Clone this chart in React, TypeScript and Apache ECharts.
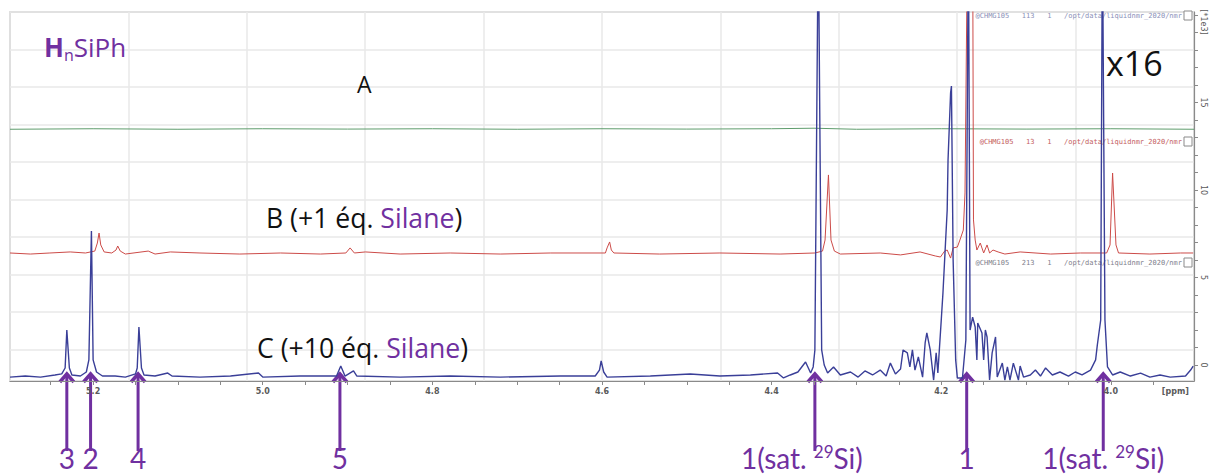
import React, { useEffect, useRef } from "react";
import * as echarts from "echarts";

// ---------- axis ranges & ticks ----------
const X_MIN = 3.902;
const X_MAX = 5.298;
const Y_MIN = -0.914;
const Y_MAX = 20.17;

const X_TICKS = [3.95, 4.0, 4.05, 4.1, 4.15, 4.2, 4.25, 4.3, 4.35, 4.4, 4.45, 4.5, 4.55, 4.6, 4.65, 4.7, 4.75, 4.8, 4.85, 4.9, 4.95, 5.0, 5.05, 5.1, 5.15, 5.2, 5.25];
const X_LABELS = [3.924, 4.0, 4.2, 4.4, 4.6, 4.8, 5.0, 5.2];
const Y_TICKS = [0, 1, 2, 3, 4, 5, 6, 7, 8, 9, 10, 11, 12, 13, 14, 15, 16, 17, 18, 19, 20];
const Y_LABELS = [0, 5, 10, 15, 19.6];

// ---------- spectra: [ppm, intensity (x1e3)] ----------
const SPECTRUM_A: number[][] = [
  [5.298, 13.47], [5.2, 13.5], [5.1, 13.47], [5.0, 13.5], [4.9, 13.48], [4.8, 13.5], [4.7, 13.47],
  [4.6, 13.5], [4.5, 13.48], [4.4, 13.5], [4.35, 13.53], [4.3, 13.47], [4.2, 13.5], [4.1, 13.48],
  [4.0, 13.5], [3.902, 13.47],
];

const SPECTRUM_B: number[][] = [
  [5.298, 6.4], [5.274, 6.34], [5.251, 6.4], [5.227, 6.46], [5.209, 6.4], [5.198, 6.51], [5.195, 6.97],
  [5.193, 7.54], [5.191, 6.86], [5.187, 6.46], [5.178, 6.4], [5.173, 6.57], [5.171, 6.8], [5.168, 6.51],
  [5.162, 6.34], [5.135, 6.51], [5.127, 6.34], [5.109, 6.46], [5.074, 6.4], [5.027, 6.34], [4.979, 6.4],
  [4.932, 6.34], [4.902, 6.4], [4.897, 6.69], [4.892, 6.4], [4.879, 6.46], [4.838, 6.34], [4.779, 6.4],
  [4.72, 6.34], [4.661, 6.4], [4.596, 6.4], [4.594, 6.69], [4.591, 7.03], [4.589, 6.57], [4.586, 6.4],
  [4.532, 6.34], [4.461, 6.4], [4.39, 6.34], [4.349, 6.4], [4.34, 6.51], [4.337, 7.14], [4.333, 10.86],
  [4.33, 7.14], [4.326, 6.51], [4.319, 6.34], [4.272, 6.4], [4.248, 6.29], [4.225, 6.46], [4.207, 6.23],
  [4.201, 6.17], [4.196, 6.51], [4.193, 6.57], [4.189, 6.11], [4.186, 6.69], [4.181, 6.74], [4.178, 7.14],
  [4.174, 7.71], [4.172, 9.83], [4.169, 25], [4.163, 25], [4.162, 8.29], [4.16, 7.14], [4.158, 6.57],
  [4.154, 6.97], [4.15, 6.4], [4.146, 6.86], [4.143, 6.4], [4.139, 6.57], [4.133, 6.46], [4.125, 6.34],
  [4.107, 6.46], [4.071, 6.34], [4.036, 6.4], [4.005, 6.4], [4.001, 6.86], [3.998, 10.97], [3.994, 6.86],
  [3.991, 6.4], [3.954, 6.34], [3.918, 6.4], [3.903, 6.4],
];

const SPECTRUM_C: number[][] = [
  [5.298, -0.69], [5.28, -0.63], [5.262, -0.69], [5.245, -0.57], [5.237, -0.51], [5.233, -0.17],
  [5.231, 2.0], [5.228, -0.17], [5.225, -0.57], [5.215, -0.63], [5.208, -0.4], [5.205, 0.29],
  [5.202, 7.66], [5.2, 0.29], [5.196, -0.4], [5.189, -0.63], [5.174, -0.63], [5.162, -0.69],
  [5.15, -0.51], [5.148, -0.17], [5.146, 2.17], [5.143, -0.17], [5.14, -0.57], [5.127, -0.63],
  [5.112, -0.46], [5.107, -0.63], [5.074, -0.69], [5.038, -0.63], [5.005, -0.46], [5.0, -0.69],
  [4.956, -0.63], [4.913, -0.63], [4.908, -0.06], [4.903, -0.63], [4.893, -0.34], [4.889, -0.63],
  [4.838, -0.69], [4.779, -0.63], [4.72, -0.69], [4.649, -0.63], [4.608, -0.63], [4.603, -0.29],
  [4.601, 0.23], [4.598, -0.4], [4.594, -0.69], [4.543, -0.63], [4.496, -0.51], [4.461, -0.63],
  [4.425, -0.57], [4.393, -0.46], [4.386, -0.74], [4.378, -0.57], [4.369, -0.4], [4.36, 0.17],
  [4.354, -0.46], [4.351, -0.11], [4.349, 0.86], [4.345, 25], [4.341, 0.86], [4.338, 0.0],
  [4.334, -0.46], [4.327, -0.11], [4.319, -0.57], [4.307, -0.4], [4.298, -0.69], [4.29, -0.34],
  [4.281, -0.57], [4.272, -0.29], [4.265, -0.63], [4.26, 0.11], [4.254, -0.51], [4.248, -0.23],
  [4.245, 0.86], [4.24, 0.69], [4.237, -0.11], [4.234, 0.86], [4.231, -0.29], [4.227, 0.46],
  [4.222, -0.69], [4.219, 1.26], [4.217, 1.83], [4.213, 0.86], [4.209, -0.86], [4.206, 0.69],
  [4.204, -0.46], [4.2, 2.57], [4.198, 4.11], [4.195, 6.97], [4.193, 8.86], [4.192, 11.71],
  [4.189, 15.54], [4.188, 15.94], [4.186, 6.0], [4.183, 0.29], [4.181, -0.74], [4.175, -0.74],
  [4.171, 1.43], [4.168, 25], [4.166, 2.0], [4.163, 2.74], [4.16, 2.17], [4.158, 0.29],
  [4.157, 2.4], [4.152, 1.83], [4.15, 0.29], [4.148, 2.0], [4.146, 1.6], [4.143, -0.86],
  [4.14, 0.69], [4.136, 1.6], [4.134, -0.69], [4.128, 0.11], [4.125, -0.86], [4.122, -0.11],
  [4.119, -0.86], [4.115, 0.11], [4.109, -0.86], [4.107, -0.06], [4.103, -0.69], [4.095, -0.57],
  [4.089, -0.29], [4.083, -0.63], [4.077, -0.17], [4.069, -0.57], [4.06, -0.4], [4.05, -0.63],
  [4.042, -0.4], [4.034, -0.57], [4.024, -0.29], [4.018, 0.29], [4.016, 1.14], [4.012, 2.57],
  [4.01, 25], [4.007, 2.57], [4.004, -0.11], [3.998, -0.57], [3.989, -0.4], [3.977, -0.63],
  [3.965, -0.46], [3.954, -0.69], [3.942, -0.57], [3.93, -0.69], [3.912, -0.63], [3.906, -0.29],
  [3.903, -0.06],
];

// ---------- annotations ----------
const ARROW_PPM = [5.231, 5.203, 5.147, 4.909, 4.349, 4.17, 4.009];
const ARROW_TEXT = ["3", "2", "4", "5", "1(sat. |29|Si)", "1", "1(sat. |29|Si)"];
const FILE_LABELS = [
  "@CHMG105   113   1   /opt/data/liquidnmr_2020/nmr",
  "@CHMG105   13   1   /opt/data/liquidnmr_2020/nmr",
  "@CHMG105   213   1   /opt/data/liquidnmr_2020/nmr",
];

const PURPLE = "#7030a0";
const FONT = '"Open Sans", Lato, "DejaVu Sans", sans-serif';
const LABEL_FONT = 'Lato, "Open Sans", sans-serif';

export default function App() {
  const ref = useRef<HTMLDivElement>(null);

  useEffect(() => {
    const chart = echarts.init(ref.current!, null, { renderer: "svg" });
    const hiddenAxisBits = {
      axisLine: { show: false },
      axisTick: { show: false },
      minorTick: { show: false },
      axisLabel: { show: false },
    };
    const option: any = {
      animation: false,
      backgroundColor: "#ffffff",
      grid: {
        left: 10,
        top: 12,
        right: 15,
        bottom: 94,
        show: true,
        borderColor: "#9a9a9a",
        borderWidth: 1.2,
      },
      xAxis: [
        {
          type: "value",
          min: 0,
          max: 10,
          interval: 1,
          position: "top",
          ...hiddenAxisBits,
          splitLine: { show: true, lineStyle: { color: "#e9e9e9", width: 1.5 } },
        },
        {
          type: "value",
          min: X_MIN,
          max: X_MAX,
          inverse: true,
          position: "bottom",
          axisLine: { show: true, onZero: false, lineStyle: { color: "#8a8a8a", width: 1.2 } },
          axisTick: { show: true, length: 4, customValues: X_TICKS, lineStyle: { color: "#8a8a8a" } },
          axisLabel: {
            show: true,
            customValues: X_LABELS,
            margin: 6,
            fontSize: 8,
            fontWeight: "bold",
            color: "#5a5a5a",
            fontFamily: "DejaVu Sans, sans-serif",
            formatter: (v: number) => (v < 3.95 ? "[ppm]" : v.toFixed(1)),
          },
          splitLine: { show: false },
        },
      ],
      yAxis: [
        {
          type: "value",
          min: 0,
          max: 9.84,
          interval: 1,
          inverse: true,
          position: "left",
          ...hiddenAxisBits,
          splitLine: { show: true, lineStyle: { color: "#e9e9e9", width: 1.5 } },
        },
        {
          type: "value",
          min: Y_MIN,
          max: Y_MAX,
          position: "right",
          axisLine: { show: true, onZero: false, lineStyle: { color: "#8a8a8a", width: 1.2 } },
          axisTick: { show: true, inside: false, length: 4, customValues: Y_TICKS, lineStyle: { color: "#8a8a8a" } },
          axisLabel: {
            show: true,
            customValues: Y_LABELS,
            rotate: -90,
            margin: 5,
            fontSize: 8,
            color: "#5a5a5a",
            fontFamily: "DejaVu Sans, sans-serif",
            formatter: (v: number) => (v > 19 ? "[*1e3]" : String(v)),
          },
          splitLine: { show: false },
        },
      ],
      series: [
        {
          name: "A",
          type: "line",
          xAxisIndex: 1,
          yAxisIndex: 1,
          data: SPECTRUM_A,
          showSymbol: false,
          clip: true,
          lineStyle: { color: "#5e9c6c", width: 1 },
        },
        {
          name: "B",
          type: "line",
          xAxisIndex: 1,
          yAxisIndex: 1,
          data: SPECTRUM_B,
          showSymbol: false,
          clip: true,
          lineStyle: { color: "#cc4b48", width: 1 },
        },
        {
          name: "C",
          type: "line",
          xAxisIndex: 1,
          yAxisIndex: 1,
          data: SPECTRUM_C,
          showSymbol: false,
          clip: true,
          lineStyle: { color: "#3a3f98", width: 1.4 },
        },
      ],
    };
    chart.setOption(option);

    const g: any[] = [];
    g.push({
      type: "text",
      x: 44,
      y: 47,
      style: {
        text: "{h|H}{n|n}{r|SiPh}",
        verticalAlign: "middle",
        rich: {
          h: { fontSize: 26, fontWeight: "bold", fontFamily: FONT, fill: PURPLE, verticalAlign: "middle", lineHeight: 32 },
          n: { fontSize: 16, fontFamily: FONT, fill: PURPLE, verticalAlign: "bottom", lineHeight: 32 },
          r: { fontSize: 26, fontFamily: FONT, fill: PURPLE, verticalAlign: "middle", lineHeight: 32 },
        },
      },
    });
    g.push({
      type: "text",
      x: 357,
      y: 84,
      style: { text: "A", fontSize: 23, fontFamily: FONT, fill: "#111", verticalAlign: "middle" },
    });
    g.push({
      type: "text",
      x: 266,
      y: 218,
      style: {
        text: "{k|B (+1 éq. }{p|Silane}{k|)}",
        verticalAlign: "middle",
        rich: {
          k: { fontSize: 26.6, fontFamily: FONT, fill: "#111" },
          p: { fontSize: 26.6, fontFamily: FONT, fill: PURPLE },
        },
      },
    });
    g.push({
      type: "text",
      x: 257,
      y: 348,
      style: {
        text: "{k|C (+10 éq. }{p|Silane}{k|)}",
        verticalAlign: "middle",
        rich: {
          k: { fontSize: 26.6, fontFamily: FONT, fill: "#111" },
          p: { fontSize: 26.6, fontFamily: FONT, fill: PURPLE },
        },
      },
    });
    g.push({
      type: "text",
      x: 1106,
      y: 63,
      style: { text: "x16", fontSize: 34, fontFamily: FONT, fill: "#111", verticalAlign: "middle" },
    });

    const fileY = [16, 142, 263];
    const fileCol = ["#8a90b8", "#c46060", "#80808c"];
    FILE_LABELS.forEach((t, i) => {
      g.push({
        type: "text",
        x: 1182,
        y: fileY[i],
        style: {
          text: t,
          fontSize: 7,
          fontFamily: '"DejaVu Sans Mono", monospace',
          fill: fileCol[i],
          align: "right",
          verticalAlign: "middle",
        },
      });
      g.push({
        type: "rect",
        shape: { x: 1184, y: fileY[i] - 5, width: 8, height: 9 },
        style: { fill: "#fff", stroke: "#8a8a8a", lineWidth: 1 },
      });
    });

    ARROW_PPM.forEach((p, i) => {
      const px = chart.convertToPixel({ xAxisIndex: 1 }, p) as number;
      g.push({
        type: "line",
        shape: { x1: px, y1: 374, x2: px, y2: 451 },
        style: { stroke: PURPLE, lineWidth: 3 },
      });
      g.push({
        type: "polyline",
        shape: { points: [[px - 7, 382], [px, 374], [px + 7, 382]] },
        style: { stroke: PURPLE, lineWidth: 3.5, fill: null },
      });
      const parts = ARROW_TEXT[i].split("|");
      const isSat = parts.length > 1;
      const text = isSat ? `{a|${parts[0]}}{s|${parts[1]}}{a|${parts[2]}}` : `{a|${parts[0]}}`;
      g.push({
        type: "text",
        x: isSat && i === 4 ? px - 13 : px,
        y: 458,
        style: {
          text,
          align: "center",
          verticalAlign: "middle",
          rich: {
            a: { fontSize: 28, fontFamily: LABEL_FONT, fill: PURPLE, lineHeight: 30, verticalAlign: "middle" },
            s: { fontSize: 17, fontFamily: LABEL_FONT, fill: PURPLE, lineHeight: 30, verticalAlign: "top" },
          },
        },
      });
    });

    chart.setOption({ graphic: g });
    return () => chart.dispose();
  }, []);

  return (
    <div
      ref={ref}
      style={{ position: "absolute", left: 0, top: 0, width: 1209, height: 475, background: "#fff" }}
    />
  );
}
